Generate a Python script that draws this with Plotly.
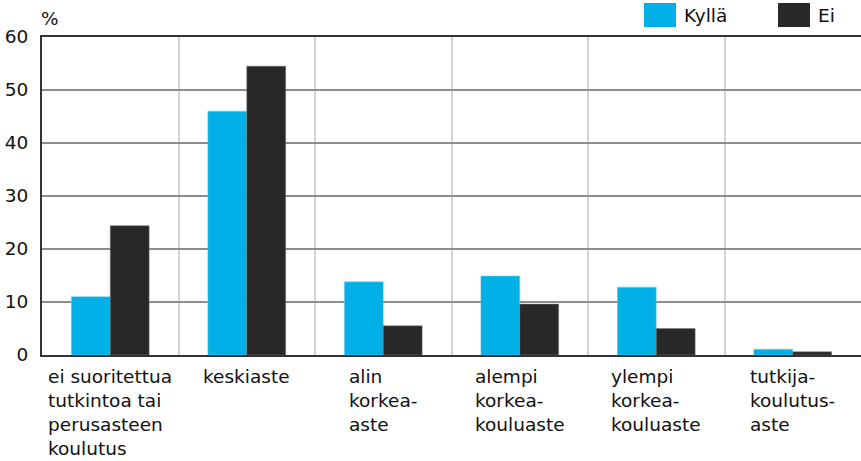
import plotly.graph_objects as go

categories = ["ei suoritettua<br>tutkintoa tai<br>perusasteen<br>koulutus",
              "keskiaste",
              "alin<br>korkea-<br>aste",
              "alempi<br>korkea-<br>kouluaste",
              "ylempi<br>korkea-<br>kouluaste",
              "tutkija-<br>koulutus-<br>aste"]
cat_ids = ["c1", "c2", "c3", "c4", "c5", "c6"]
kylla = [11.0, 46.0, 13.8, 14.9, 12.8, 1.1]
ei = [24.4, 54.5, 5.5, 9.6, 5.0, 0.6]
y_ticks = [0, 10, 20, 30, 40, 50, 60]

BLUE = "#00b0e6"
DARK = "#282828"
FONT = "DejaVu Sans"
FS = 18.5

fig = go.Figure()
fig.add_trace(go.Bar(x=cat_ids, y=kylla, name="Kyllä", marker_color=BLUE,
                     marker_line=dict(color="#7fcde8", width=0.5)))
fig.add_trace(go.Bar(x=cat_ids, y=ei, name="Ei", marker_color=DARK,
                     marker_line=dict(color="#777777", width=0.5)))

for cid, lab in zip(cat_ids, categories):
    fig.add_annotation(x=cid, xref="x", y=0, yref="paper", yanchor="top",
                       xanchor="center", align="left", text=lab, showarrow=False,
                       yshift=-9, font=dict(family=FONT, size=FS, color="#111111"))

fig.add_annotation(x=0, xref="paper", y=1, yref="paper", xanchor="left", yanchor="bottom",
                   text="%", showarrow=False, yshift=6, xshift=-3,
                   font=dict(family=FONT, size=FS, color="#111111"))

# legend drawn manually
for x0, col, name in [(644, BLUE, "Kyllä"), (778, DARK, "Ei")]:
    fig.add_shape(type="rect", xref="paper", yref="paper",
                  x0=(x0 - 42) / 819, x1=(x0 + 32 - 42) / 819,
                  y0=1 + (37 - 27) / 318, y1=1 + (37 - 3) / 318,
                  fillcolor=col, line=dict(width=0))
    fig.add_annotation(x=(x0 + 38 - 42) / 819, xref="paper", y=1 + (37 - 15) / 318,
                       yref="paper", xanchor="left", yanchor="middle", text=name,
                       showarrow=False, font=dict(family=FONT, size=FS, color="#111111"))

fig.update_layout(
    width=861, height=461,
    margin=dict(l=42, r=0, t=37, b=106, autoexpand=False),
    plot_bgcolor="white", paper_bgcolor="white",
    barmode="group", bargap=0.43, bargroupgap=0,
    showlegend=False, hovermode=False,
    font=dict(family=FONT, size=FS, color="#111111"),
)
fig.update_xaxes(type="category", tickson="boundaries", showgrid=True,
                 gridcolor="#d2d2d2", gridwidth=2, showticklabels=False,
                 ticks="", showline=True, mirror=True, linecolor="#333333", linewidth=2,
                 automargin=False)
fig.update_yaxes(range=[0, 60], tickvals=y_ticks, showgrid=True, gridcolor="#8c8c8c",
                 gridwidth=1.5, showline=True, linecolor="#333333", linewidth=2,
                 zeroline=False, ticks="", ticklabelstandoff=8, automargin=False,
                 tickfont=dict(family=FONT, size=FS, color="#111111"))

fig.write_html("out.html", config={"displayModeBar": False},
               post_script="document.body.style.margin='0';document.body.style.padding='0';")
